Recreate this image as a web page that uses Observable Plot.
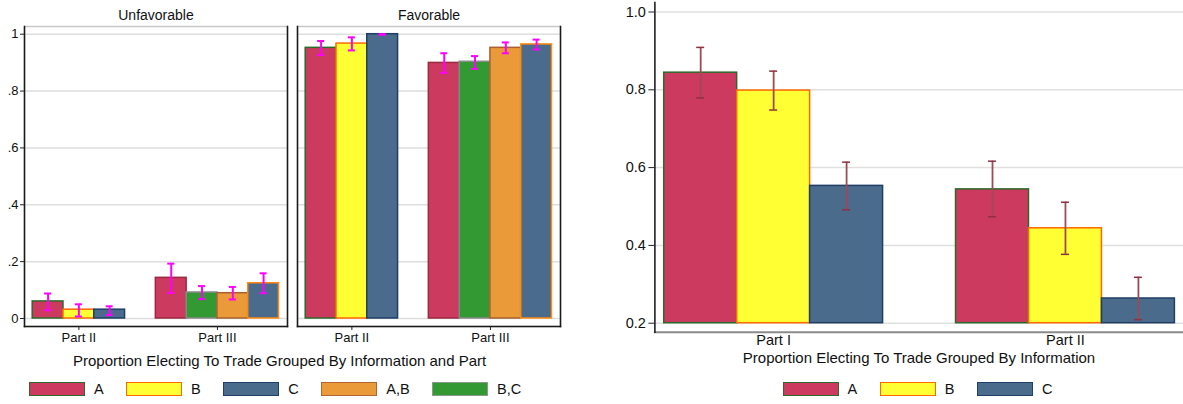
<!DOCTYPE html>
<html><head><meta charset="utf-8">
<script src="https://cdn.jsdelivr.net/npm/d3@7"></script>
<script src="https://cdn.jsdelivr.net/npm/@observablehq/plot@0.6"></script>
<style>
body{margin:0;background:#fff;font-family:"Liberation Sans",Arial,Helvetica,sans-serif;}
#wrap{position:relative;width:1183px;height:404px;overflow:hidden;background:#fff}
.chart{position:absolute;top:0}
.title{position:absolute;font-size:15px;line-height:15px;white-space:nowrap;transform:translate(-50%,-50%);color:#111}
.legend{position:absolute;display:flex;align-items:center;gap:22.5px;font-size:14.5px;line-height:15px;top:381.7px;height:15px;color:#111}
.item{display:flex;align-items:center;white-space:nowrap}
.sw{width:54px;height:12px;border:1.5px solid;margin-right:9px;box-sizing:content-box}
</style></head>
<body>
<div id="wrap">
  <div id="left" class="chart" style="left:0"></div>
  <div id="right" class="chart" style="left:600px"></div>
  <div class="title" style="left:279.6px;top:360px">Proportion Electing To Trade Grouped By Information and Part</div>
  <div class="title" style="left:919px;top:356.7px">Proportion Electing To Trade Grouped By Information</div>
  <div id="legL" class="legend" style="left:28.9px"></div>
  <div id="legR" class="legend" style="left:782.6px"></div>
</div>
<script>
// ---- data ----
const leftPanels = ["Unfavorable", "Favorable"];
const leftParts = ["Part II", "Part III"];
const leftInfo = [["A", "B", "C"], ["A", "B,C", "A,B", "C"]];
const unfavMean = [[0.060, 0.031, 0.031], [0.143, 0.0915, 0.089, 0.124]];
const unfavLo   = [[0.029, 0.007, 0.012], [0.090, 0.068, 0.067, 0.089]];
const unfavHi   = [[0.088, 0.050, 0.043], [0.193, 0.114, 0.111, 0.159]];
const favMean   = [[0.952, 0.967, 1.000], [0.899, 0.903, 0.952, 0.964]];
const favLo     = [[0.927, 0.943, 0.998], [0.864, 0.878, 0.933, 0.946]];
const favHi     = [[0.976, 0.989, 1.000], [0.933, 0.923, 0.971, 0.981]];
const leftTicks = [0, 0.2, 0.4, 0.6, 0.8, 1];

const rightParts = ["Part I", "Part II"];
const rightInfo = [["A", "B", "C"], ["A", "B", "C"]];
const rightMean = [[0.844, 0.798, 0.553], [0.544, 0.444, 0.2635]];
const rightLo   = [[0.779, 0.748, 0.4915], [0.4735, 0.377, 0.209]];
const rightHi   = [[0.909, 0.848, 0.614], [0.6165, 0.511, 0.318]];
const rightTicks = [0.2, 0.4, 0.6, 0.8, 1.0];

const legendLeft = ["A", "B", "C", "A,B", "B,C"];
const legendRight = ["A", "B", "C"];

// ---- styles ----
const fills   = {"A": "#cc3a5f", "B": "#ffff33", "C": "#4a6b8c", "A,B": "#ea9a38", "B,C": "#339933"};
const strokes = {"A": "#2b6a2b", "B": "#ff6a00", "C": "#1f3f66", "A,B": "#b0662e", "B,C": "#8a9a8a"};
// bar outline colour by group position (Stata cycles outline colours per bar slot)
const leftOutline  = [["#2b6a2b", "#ff6a00", "#1f3f66"], ["#9a2a40", "#8a8a8a", "#a8602e", "#ff8a10"]];
const rightOutline = [["#2b6a2b", "#ff6a00", "#1f3f66"], ["#2b6a2b", "#ff6a00", "#1f3f66"]];
const font = '"Liberation Sans", Arial, Helvetica, sans-serif';

function buildRows(parts, info, mean, lo, hi, outline, extra) {
  const rows = [], centers = [];
  let pos = 0;
  parts.forEach((p, g) => {
    const start = pos;
    info[g].forEach((k, i) => {
      rows.push({part: p, info: k, pos, mean: mean[g][i], lo: lo[g][i], hi: hi[g][i], edge: outline[g][i], ...extra});
      pos++;
    });
    centers.push({part: p, x: (start + pos - 1) / 2});
    pos++; // one empty slot between groups
  });
  return {rows, centers, n: pos - 1};
}

const U = buildRows(leftParts, leftInfo, unfavMean, unfavLo, unfavHi, leftOutline, {panel: "Unfavorable"});
const F = buildRows(leftParts, leftInfo, favMean, favLo, favHi, leftOutline, {panel: "Favorable"});
const leftRows = U.rows.concat(F.rows);
const R = buildRows(rightParts, rightInfo, rightMean, rightLo, rightHi, rightOutline, {});

const fmtLeft = d => d === 0 ? "0" : d === 1 ? "1" : d3.format(".1f")(d).replace(/^0/, "");

const left = Plot.plot({
  width: 562, height: 350,
  marginLeft: 23.3, marginRight: 2, marginTop: 26, marginBottom: 24,
  style: {fontFamily: font, color: "#111", background: "white"},
  fx: {domain: leftPanels, paddingInner: 0.038, paddingOuter: 0, label: null},
  x: {domain: [-0.5, U.n - 0.5], insetLeft: 8.2, insetRight: 8.5},
  y: {domain: [0, 1], insetTop: 7.7, insetBottom: 8},
  marks: [
    Plot.gridY(leftTicks, {stroke: "#dedede", strokeOpacity: 1, strokeWidth: 1.5}),
    Plot.frame({stroke: "#c8c8c8", strokeWidth: 1.5}),
    Plot.frame({anchor: "left", stroke: "#1a1a1a", strokeWidth: 1.5}),
    Plot.frame({anchor: "right", stroke: "#1a1a1a", strokeWidth: 1.5}),
    Plot.frame({anchor: "bottom", stroke: "#1a1a1a", strokeWidth: 1.5}),
    Plot.rectY(leftRows, {fx: "panel", x1: d => d.pos - 0.5, x2: d => d.pos + 0.5, y1: 0, y2: "mean",
      fill: d => fills[d.info], stroke: "edge", strokeWidth: 1.5}),
    Plot.ruleX(leftRows, {fx: "panel", x: "pos", y1: "lo", y2: "hi", stroke: "#ff00ff", strokeWidth: 2}),
    Plot.ruleY(leftRows, {fx: "panel", x1: "pos", x2: "pos", y: "lo", insetLeft: -3.5, insetRight: -3.5, stroke: "#ff00ff", strokeWidth: 2}),
    Plot.ruleY(leftRows, {fx: "panel", x1: "pos", x2: "pos", y: "hi", insetLeft: -3.5, insetRight: -3.5, stroke: "#ff00ff", strokeWidth: 2}),
    Plot.axisX({ticks: U.centers.map(c => c.x), tickFormat: x => U.centers.find(c => c.x === x).part,
      tickSize: 4, tickPadding: 2, fontSize: 13, label: null, stroke: "#222"}),
    Plot.axisY({ticks: leftTicks, tickFormat: fmtLeft, tickSize: 4, tickPadding: 2, fontSize: 13, label: null, stroke: "#222"}),
    Plot.axisFx({anchor: "top", tickSize: 0, tickPadding: 7, fontSize: 14, label: null})
  ]
});
document.getElementById("left").appendChild(left);

const right = Plot.plot({
  width: 583, height: 350,
  marginLeft: 54.4, marginRight: 0, marginTop: 2, marginBottom: 18.3,
  style: {fontFamily: font, color: "#111", background: "white"},
  x: {domain: [-0.5, R.n - 0.5], insetLeft: 9.3, insetRight: 8.6},
  y: {domain: [0.2, 1.0], insetTop: 9.5, insetBottom: 9},
  marks: [
    Plot.gridY(rightTicks, {stroke: "#e0e0e0", strokeOpacity: 1, strokeWidth: 1.5}),
    Plot.rectY(R.rows, {x1: d => d.pos - 0.5, x2: d => d.pos + 0.5, y1: 0.2, y2: "mean",
      fill: d => fills[d.info], stroke: "edge", strokeWidth: 1.5}),
    Plot.ruleX(R.rows, {x: "pos", y1: "lo", y2: "hi", stroke: "#a04855", strokeWidth: 1.8}),
    Plot.ruleY(R.rows, {x1: "pos", x2: "pos", y: "lo", insetLeft: -4, insetRight: -4, stroke: "#8f3040", strokeWidth: 1.5}),
    Plot.ruleY(R.rows, {x1: "pos", x2: "pos", y: "hi", insetLeft: -4, insetRight: -4, stroke: "#8f3040", strokeWidth: 1.5}),
    Plot.frame({anchor: "bottom", stroke: "#8a8a8a", strokeWidth: 2}),
    Plot.frame({anchor: "left", stroke: "#111", strokeWidth: 1.5}),
    Plot.axisX({ticks: R.centers.map(c => c.x), tickFormat: x => R.centers.find(c => c.x === x).part,
      tickSize: 0, tickPadding: 3, fontSize: 14.5, label: null}),
    Plot.axisY({ticks: rightTicks, tickFormat: d3.format(".1f"), tickSize: 6, tickPadding: 3, fontSize: 14.5, label: null, stroke: "#222"})
  ]
});
document.getElementById("right").appendChild(right);

function legend(el, keys) {
  const root = document.getElementById(el);
  keys.forEach(k => {
    const it = document.createElement("div");
    it.className = "item";
    const sw = document.createElement("span");
    sw.className = "sw";
    sw.style.background = fills[k];
    sw.style.borderColor = strokes[k];
    const lb = document.createElement("span");
    lb.textContent = k;
    it.appendChild(sw); it.appendChild(lb);
    root.appendChild(it);
  });
}
legend("legL", legendLeft);
legend("legR", legendRight);
</script>
</body></html>
